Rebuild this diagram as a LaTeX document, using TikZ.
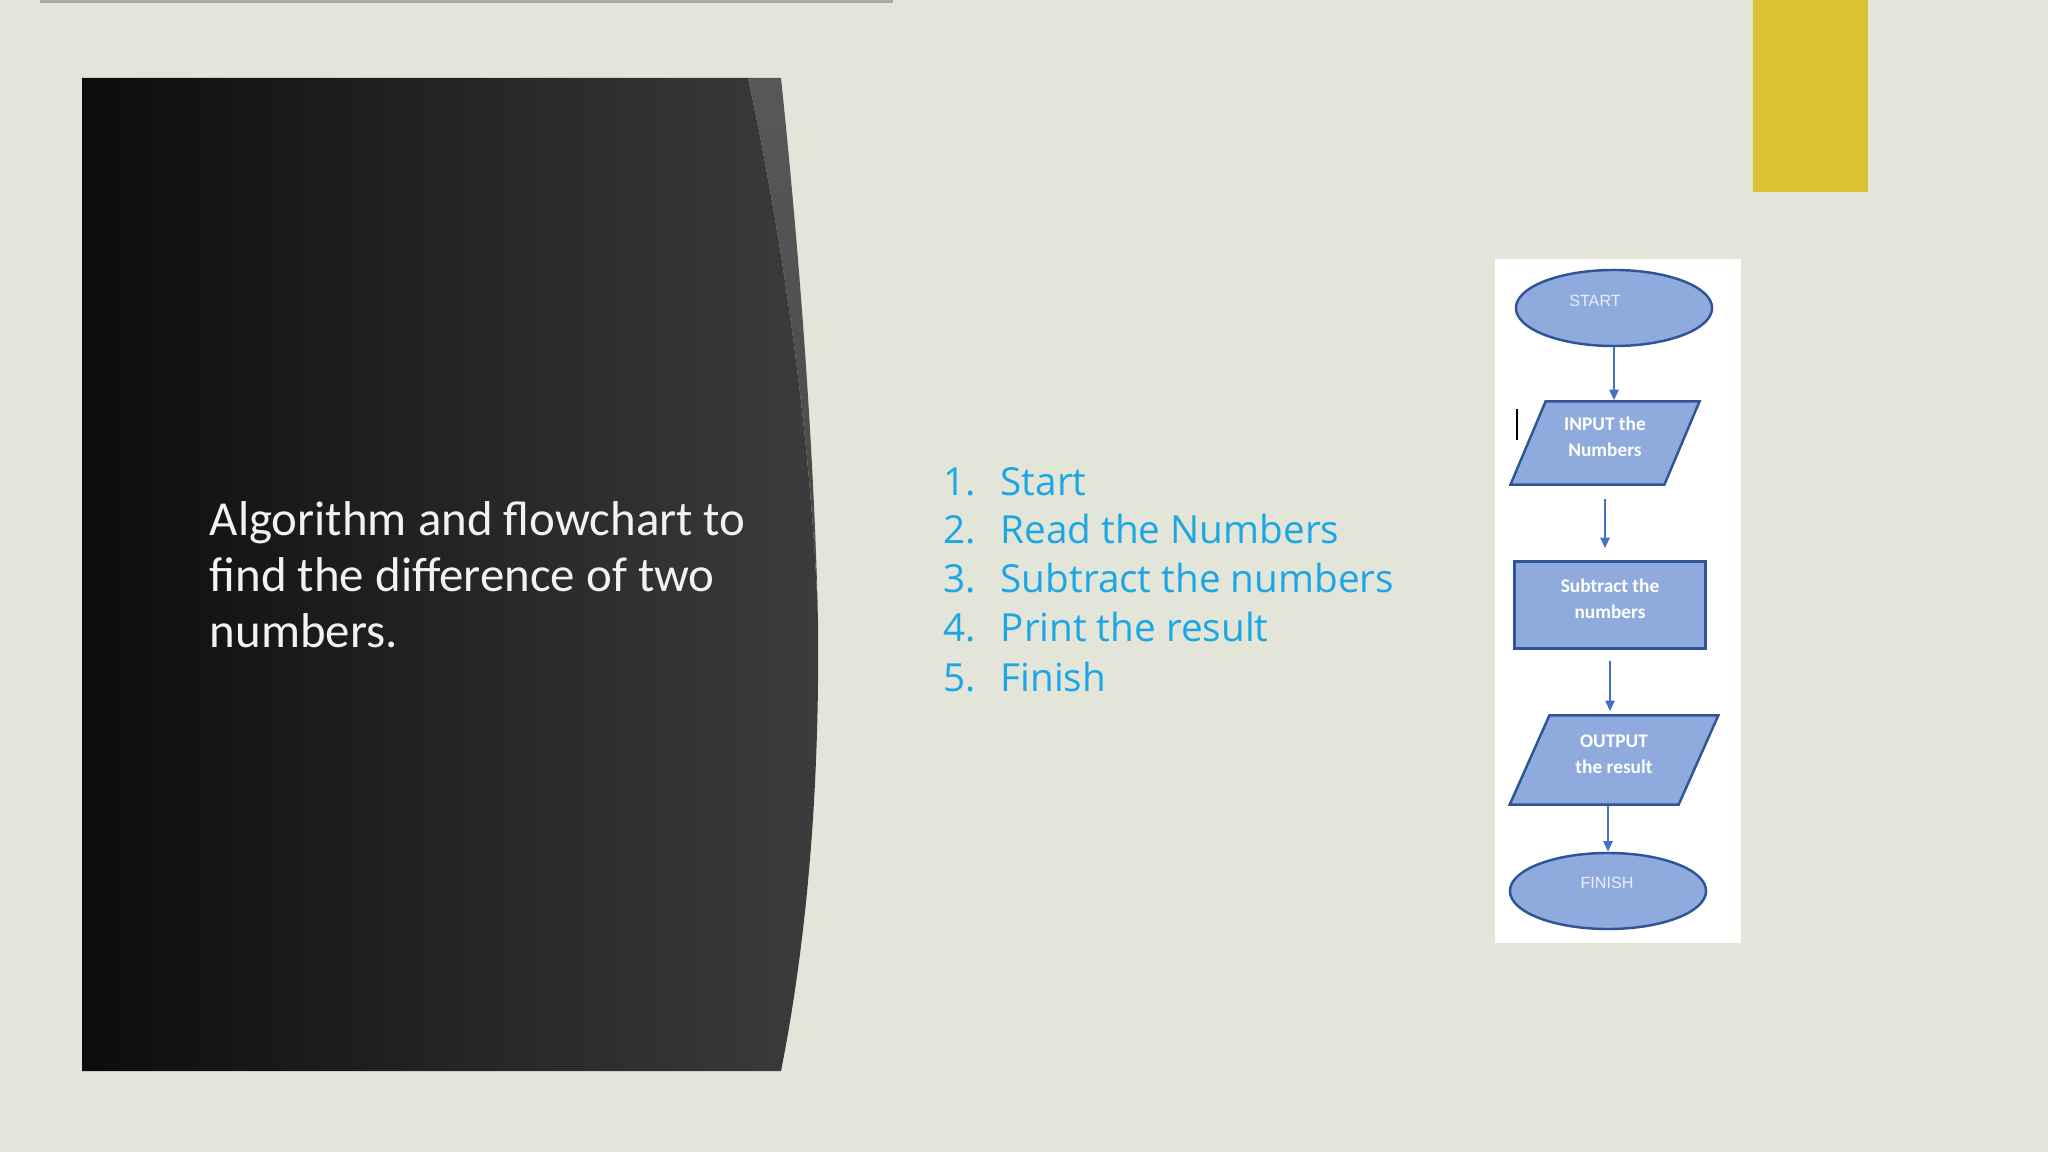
\documentclass[tikz,border=0pt]{standalone}
\usepackage{fontspec}
\setmainfont{Carlito}
\newfontfamily\listfont{Open Sans}
\newfontfamily\arialfont{Liberation Sans}
\usepackage{tikz}
\usetikzlibrary{arrows.meta,calc,positioning,shapes.geometric}
\definecolor{slidebg}{RGB}{227,229,217}
\definecolor{topline}{RGB}{168,171,157}
\definecolor{accentyellow}{RGB}{220,195,54}
\definecolor{listblue}{RGB}{27,166,230}
\definecolor{boxfill}{RGB}{143,170,220}
\definecolor{boxline}{RGB}{47,85,151}
\definecolor{arrowblue}{RGB}{68,114,196}
\definecolor{paneldark}{RGB}{12,12,12}
\definecolor{panellight}{RGB}{60,60,60}
\definecolor{panelrim}{RGB}{88,88,88}

\begin{document}
\begin{tikzpicture}[x=0.01cm,y=-0.01cm,
                    every node/.style={inner sep=0pt},
                    titletext/.style={text=white!95!black,align=left,
                                      font=\fontsize{13.9}{15.9}\selectfont},
                    listtext/.style={text=listblue,font=\listfont\fontsize{11}{14}\selectfont},
                    fcbox/.style={draw=boxline,fill=boxfill,line width=0.7pt,text=white,
                                  align=center,text depth=3.4pt,
                                  font=\bfseries\fontsize{5.5}{7.4}\selectfont},
                    terminal/.style={fcbox,ellipse,minimum width=1.96cm,minimum height=0.76cm},
                    iobox/.style={fcbox,trapezium,trapezium stretches=true,
                                  trapezium left angle=65,trapezium right angle=115},
                    procbox/.style={fcbox,rectangle,minimum width=1.91cm,minimum height=0.87cm},
                    termlabel/.style={text=white!80!boxfill,font=\arialfont\fontsize{4.6}{5.5}\selectfont},
                    flow/.style={draw=arrowblue,line width=0.6pt,-{Triangle[length=3pt,width=2.6pt]}}]

  % --- slide background ---------------------------------------------------
  \fill[slidebg] (0,0) rectangle (2048,1152);
  \useasboundingbox (0,0) rectangle (2048,1152);
  \draw[topline,line width=1.2pt] (40,1) -- (893,1);
  \fill[accentyellow] (1753,0) rectangle (1868,192);

  % --- dark title panel ---------------------------------------------------
  \shade[top color=panelrim,bottom color=black!72] (748,78) -- (781,78)
      .. controls (800,260) and (814,450) .. (818,620)
      .. controls (812,450) and (785,250) .. (748,78) -- cycle;
  \shade[left color=paneldark,right color=panellight] (82,78) -- (748,78)
      .. controls (785,250) and (812,450) .. (818,620)
      .. controls (820,800) and (805,950) .. (781,1071) -- (82,1071) -- cycle;
  \node[titletext,anchor=base west] (title) at (209,647)
      {Algorithm and flowchart to\\find the difference of two\\numbers.};

  % --- algorithm steps ----------------------------------------------------
  \foreach \txt [count=\i] in {Start,Read the Numbers,Subtract the numbers,
                               Print the result,Finish} {
    \node[listtext,anchor=base west] (num\i) at (943,{495+(\i-1)*49}) {\i.};
    \node[listtext,anchor=base west] (item\i) at (1000,{495+(\i-1)*49}) {\txt};
  }

  % --- flowchart ----------------------------------------------------------
  \fill[white] (1495,259) rectangle (1741,943);
  \node[terminal] (start) at (1614,308) {};
  \node[termlabel] (startlbl) at (1595,301) {START};
  \node[iobox,minimum width=1.89cm,minimum height=0.83cm] (input) at (1605,443)
      {INPUT the\\Numbers};
  \draw[black,line width=0.5pt] (1517,409) -- (1517,440);
  \node[procbox] (subtract) at (1610,605) {Subtract the\\numbers};
  \node[iobox,minimum width=2.09cm,minimum height=0.89cm] (output) at (1614,760)
      {OUTPUT\\the result};
  \node[terminal] (finish) at (1608,891) {};
  \node[termlabel] (finishlbl) at (1607,883) {FINISH};

  \draw[flow] (start.south) -- (start.south |- input.north);
  \draw[flow,shorten <=0.13cm,shorten >=0.12cm] (input.south) -- (input.south |- subtract.north);
  \draw[flow,shorten <=0.11cm,shorten >=0.03cm] (subtract.south) -- (subtract.south |- output.north);
  \draw[flow] (finish.north |- output.south) -- (finish.north);
\end{tikzpicture}
\end{document}
